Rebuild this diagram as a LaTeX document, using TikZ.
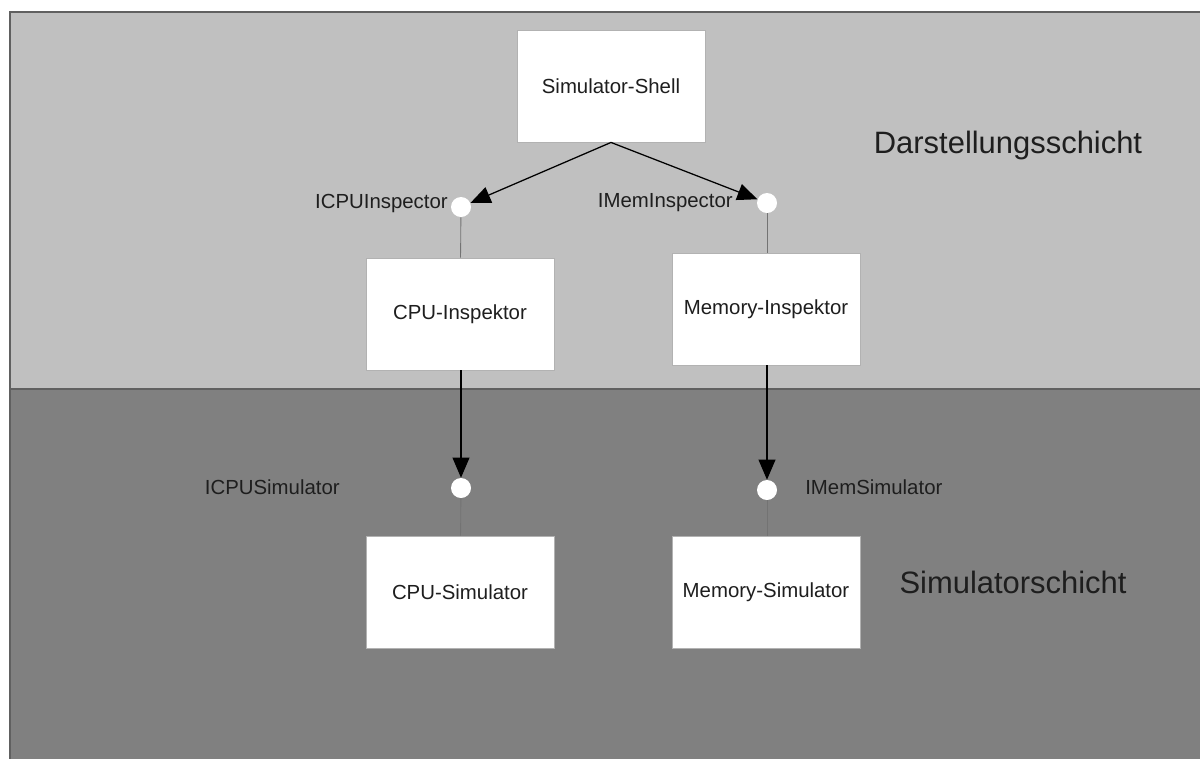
\documentclass[tikz,border=0pt]{standalone}
\usepackage{fontspec}
\setmainfont{Liberation Sans}
\usetikzlibrary{positioning, arrows.meta}

\definecolor{upperbg}{HTML}{C0C0C0}
\definecolor{lowerbg}{HTML}{808080}
\definecolor{framegray}{HTML}{606060}
\definecolor{textgray}{HTML}{1E1E1E}

\tikzset{
    comp/.style={draw=black!30, fill=white, line width=0.6pt,
        minimum width=4.7cm, minimum height=2.8cm,
        font=\fontsize{14.5}{17}\selectfont, text=textgray},
    iface/.style={circle, fill=white, inner sep=0pt, minimum size=0.5cm},
    ifname/.style={font=\fontsize{14.5}{17}\selectfont, text=textgray, inner sep=0pt},
    layer/.style={font=\fontsize{22}{26}\selectfont, text=textgray, inner sep=0pt},
    uses/.style={-{Triangle[length=0.5cm,width=0.42cm]}, line width=0.9pt},
    offers/.style={draw=black!55, line width=0.6pt}
}

\begin{document}
\begin{tikzpicture}[x=0.025cm, y=-0.025cm]
    \useasboundingbox (0,0) rectangle (1200,758);
    \clip (0,0) rectangle (1200,758);

    % layers
    \fill[upperbg] (10,12) rectangle (1215,389);
    \fill[lowerbg] (10,389) rectangle (1215,770);
    \draw[framegray, line width=1.4pt] (1215,12) -- (10,12) -- (10,770);
    \draw[framegray, line width=1.4pt] (10,389) -- (1215,389);

    \node[layer] (present) at (1008,145) {Darstellungsschicht};
    \node[layer] (simlayer) at (1013,582) {Simulatorschicht};

    % components
    \node[comp] (shell) at (611,86) {Simulator-Shell};
    \node[comp] (cpuinsp) at (460,314) {CPU-Inspektor};
    \node[comp] (meminsp) at (766,309) {Memory-Inspektor};
    \node[comp] (cpusim) at (460,592) {CPU-Simulator};
    \node[comp] (memsim) at (766,592) {Memory-Simulator};

    % interfaces
    \node[iface] (icpuinsp) at (461,207) {};
    \node[iface] (imeminsp) at (767,203) {};
    \node[iface] (icpusim) at (461,488) {};
    \node[iface] (imemsim) at (767,490) {};

    \node[ifname, anchor=east] (icpuinsplbl) at (448,203) {ICPUInspector};
    \node[ifname, anchor=east] (imeminsplbl) at (733,203) {IMemInspector};
    \node[ifname, anchor=east] (icpusimlbl) at (340,487) {ICPUSimulator};
    \node[ifname, anchor=west] (imemsimlbl) at (805,487) {IMemSimulator};

    \draw[offers] (icpuinsp) -- (cpuinsp);
    \draw[offers] (imeminsp) -- (meminsp.north -| imeminsp);
    \draw[offers] (icpusim) -- (cpusim);
    \draw[offers] (imemsim) -- (memsim.north -| imemsim);

    \draw[uses] (shell.south) -- (icpuinsp);
    \draw[uses] (shell.south) -- (imeminsp);
    \draw[uses] (cpuinsp.south -| icpusim) -- (icpusim);
    \draw[uses] (meminsp.south -| imemsim) -- (imemsim);

\end{tikzpicture}
\end{document}
